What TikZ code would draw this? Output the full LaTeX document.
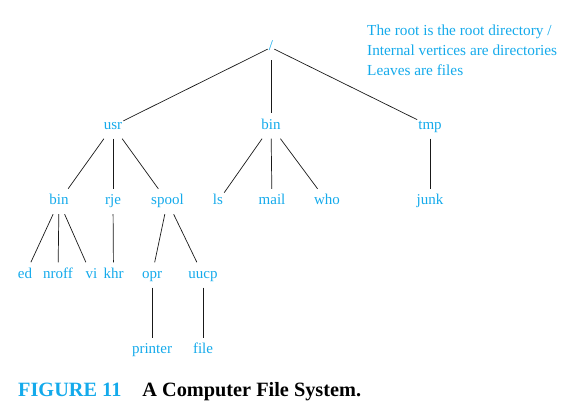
\documentclass[tikz,border=0pt]{standalone}
\usepackage{fontspec}
\setmainfont{Liberation Serif}
\usetikzlibrary{positioning}
\definecolor{dircyan}{RGB}{20,170,235}

\begin{document}
\begin{tikzpicture}[x=1pt, y=-1pt,
    file/.style={text=dircyan, font=\fontsize{15}{18}\selectfont,
        text height=10pt, text depth=3pt, inner xsep=1pt, inner ysep=6pt},
    edge/.style={draw=black!90, line width=0.7pt}
]
\useasboundingbox (0,0) rectangle (582,411);
% levels of the tree
\node[file] (root) at (271,47.5) {/};
\node[file] (usr)  at (113,126) {usr};
\node[file] (bin)  at (271,126) {bin};
\node[file] (tmp)  at (430,126) {tmp};
\node[file] (ubin)  at (59,201.5)  {bin};
\node[file] (rje)   at (113,201.5) {rje};
\node[file] (spool) at (167.5,201.5) {spool};
\node[file] (ls)    at (218,201.5) {ls};
\node[file] (mail)  at (272,201.5) {mail};
\node[file] (who)   at (327,201.5) {who};
\node[file] (junk)  at (430,201.5) {junk};
\node[file] (ed)    at (25,275)  {ed};
\node[file] (nroff) at (58,275)  {nroff};
\node[file] (vi)    at (91.5,275) {vi};
\node[file] (khr)   at (113.5,275) {khr};
\node[file] (opr)   at (152,275) {opr};
\node[file] (uucp)  at (203,275) {uucp};
\node[file] (printer) at (152,350.5) {printer};
\node[file] (fl)      at (203,350.5) {file};
% edges
\foreach \a/\b in {root/usr, root/bin, root/tmp,
    usr/ubin, usr/rje, usr/spool, bin/ls, bin/mail, bin/who, tmp/junk,
    ubin/ed, ubin/nroff, ubin/vi, rje/khr, spool/opr, spool/uucp,
    opr/printer, uucp/fl}
  \draw[edge] (\a) -- (\b);
% legend
\node[anchor=base west, inner sep=0pt, align=left, text=dircyan,
    font=\fontsize{15.3}{20}\selectfont] (legend) at (367,76)
  {The root is the root directory /\\Internal vertices are directories\\Leaves are files};
% caption
\node[anchor=base west, inner sep=0pt, font=\fontsize{20.3}{23}\selectfont\bfseries]
  (caption) at (18,397) {\textcolor{dircyan}{FIGURE 11}\hspace{21pt}A Computer File System.};
\end{tikzpicture}
\end{document}
